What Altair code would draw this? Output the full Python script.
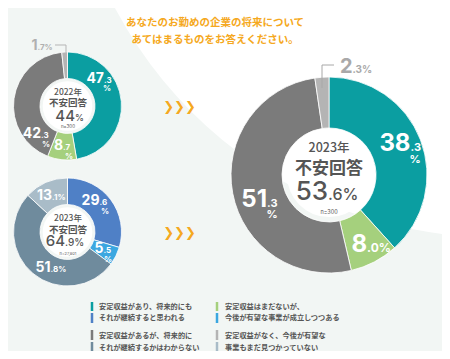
import math
import altair as alt
import pandas as pd

# ---------------- data ----------------
vals_2022 = [47.3, 8.7, 42.3, 1.7]          # 2022, n=300
vals_2023 = [38.3, 8.0, 51.3, 2.3]          # 2023, n=300
vals_other = [29.6, 5.5, 51.8, 13.1]        # 2023, n=27,801
n_2022 = "n=300"
n_2023 = "n=300"
n_other = "n=27,801"
year_2022 = "2022年"
year_2023 = "2023年"
center_title = "不安回答"
title_lines = ["あなたのお勤めの企業の将来について", "あてはまるものをお答えください。"]
legend_lines = [
    ["安定収益があり、将来的にも", "それが継続すると思われる"],
    ["安定収益はまだないが、", "今後が有望な事業が成立しつつある"],
    ["安定収益があるが、将来的に", "それが継続するかはわからない"],
    ["安定収益がなく、今後が有望な", "事業もまだ見つかっていない"],
]

# ---------------- styles ----------------
C_MAIN = ["#0b9ea1", "#a5d07d", "#7b7b7b", "#b4b4b4"]
C_OTHER = ["#4f80c6", "#3ba7e0", "#6f8b9d", "#a9bcc8"]
ORANGE = "#f5a820"
TXT = "#555555"
NUM = "Inter"
JP = "Noto Sans CJK JP"

OFF = 8
W, H = 434, 343

texts = []


def T(x, y, s, size, color, align="center", weight="normal", font=NUM):
    texts.append(dict(x=x - OFF, y=y - OFF, t=s, size=size, color=color,
                      align=align, weight=weight, font=font))


def split(v):
    a, b = f"{v:.1f}".split(".")
    return a, "." + b


def pct_label(v, xs, base, big, small, color, below=None):
    a, b = split(v)
    T(xs, base, a, big, color, "right", 700)
    if below:
        T(xs, base, b, small, color, "left", 700)
        T(below[0], below[1], "%", small, color, "center", 700)
    else:
        T(xs, base, b + "%", small, color, "left", 700)


# slice labels
L1 = [(104, 83, 14, 8, "white", (107, 91)),
      (63, 150, 14, 8, "white", (69, 158.5)),
      (41, 138, 14, 8, "white", (46, 146.5)),
      (37.5, 49.5, 14, 8, "#b0b0b0", None)]
for v, (xs, b, bg, sm, c, bl) in zip(vals_2022, L1):
    pct_label(v, xs, b, bg, sm, c, bl)

L2 = [(99.5, 205, 14, 8, "white", (105, 213.5)),
      (103.5, 253, 14, 8, "white", (108, 261.5)),
      (50.5, 272, 14, 8, "white", None),
      (52, 200, 14, 8, "white", None)]
for v, (xs, b, bg, sm, c, bl) in zip(vals_other, L2):
    pct_label(v, xs, b, bg, sm, c, bl)

L3 = [(410.5, 151, 24, 11, "white", (415, 163)),
      (367, 252, 24, 12, "white", None),
      (267, 207, 24, 11, "white", (272, 218)),
      (352.5, 72.5, 20, 10, "#a9a9a9", None)]
for v, (xs, b, bg, sm, c, bl) in zip(vals_2023, L3):
    pct_label(v, xs, b, bg, sm, c, bl)


# center texts
def anxiety(vals):
    return round(vals[2] + vals[3], 1)


def center(cx, yy, year, n, total, s_year, s_title, s_big, s_small, s_n, split_x):
    T(cx, yy[0], year, s_year, TXT, "center", 500, JP)
    T(cx, yy[1], center_title, s_title, TXT, "center", 700, JP)
    a, b = f"{total:.1f}".split(".")
    rest = "%" if b == "0" else "." + b + "%"
    T(split_x, yy[2], a, s_big, TXT, "right", 500)
    T(split_x, yy[2], rest, s_small, TXT, "left", 500)
    T(cx, yy[3], n, s_n, TXT, "center", 400)


center(68, (94.5, 106, 120.5, 127.5), year_2022, n_2022, anxiety(vals_2022), 8.5, 9.5, 15, 9, 4.5, 75)
center(68, (221, 232.5, 245.5, 254.5), year_2023, n_other, anxiety(vals_other), 8.5, 9.5, 15, 10, 4, 65)
center(329, (151.5, 174, 200, 213.5), year_2023, n_2023, anxiety(vals_2023), 12.5, 17, 26, 16, 5.5, 328)

# title & arrows
T(215, 25.5, title_lines[0], 10.5, ORANGE, "center", 700, JP)
T(215, 43, title_lines[1], 10.5, ORANGE, "center", 700, JP)
T(179.5, 111, "❯❯❯", 13, ORANGE, "center", 700, "DejaVu Sans")
T(179.5, 237, "❯❯❯", 13, ORANGE, "center", 700, "DejaVu Sans")

# legend texts
LEG_POS = [(99, 308.5, 319.5), (225, 308.5, 319.5), (99, 337.5, 349.5), (225, 337.5, 349.5)]
for lines, (x, y1, y2) in zip(legend_lines, LEG_POS):
    T(x, y1, lines[0], 7.2, TXT, "left", 700, JP)
    T(x, y2, lines[1], 7.2, TXT, "left", 700, JP)

tdf = pd.DataFrame(texts)

# ---------------- layers ----------------
def disc(cx, cy, r, color):
    return alt.Chart(pd.DataFrame({"a": [0]})).mark_circle(
        size=math.pi * r ** 2, color=color, opacity=1
    ).encode(x=alt.value(cx - OFF), y=alt.value(cy - OFF))


bg_circle = disc(494, -191, 483, "white")


def donut(vals, colors, cx, cy, r_in, r_out):
    df = pd.DataFrame({"v": vals, "c": colors, "i": list(range(len(vals)))})
    arcs = alt.Chart(df).mark_arc(
        innerRadius=r_in, outerRadius=r_out, stroke="white", strokeWidth=0.8
    ).encode(
        theta=alt.Theta("v:Q", stack=True),
        color=alt.Color("c:N", scale=None),
        order=alt.Order("i:Q"),
        x=alt.value(cx - OFF),
        y=alt.value(cy - OFF),
    )
    return [arcs, disc(cx, cy, r_in + 0.5, "white")]


d1 = donut(vals_2022, C_MAIN, 67.5, 106, 27.5, 54)
d2 = donut(vals_other, C_OTHER, 67.5, 232, 27.5, 54)
d3 = donut(vals_2023, C_MAIN, 329, 175, 47, 98)

lines_df = pd.DataFrame({
    "x": [55, 66, 322, 322], "y": [45, 45, 65, 65],
    "x2": [66, 66, 334, 322], "y2": [45, 56, 65, 88],
    "c": ["#b5b5b5", "#b5b5b5", "#a8a8a8", "#a8a8a8"],
})
lines_df[["x", "x2", "y", "y2"]] -= OFF
leaders = alt.Chart(lines_df).mark_rule(strokeWidth=1).encode(
    x=alt.X("x:Q", scale=None, axis=None), x2="x2:Q",
    y=alt.Y("y:Q", scale=None, axis=None), y2="y2:Q",
    color=alt.Color("c:N", scale=None),
)

leg_df = pd.DataFrame({
    "x": [92, 92, 217, 217, 92, 92, 217, 217],
    "y": [302, 313, 302, 313, 330, 342, 330, 342],
    "y2": [311, 323, 311, 323, 340, 352, 340, 352],
    "c": [C_MAIN[0], C_OTHER[0], C_MAIN[1], C_OTHER[1],
          C_MAIN[2], C_OTHER[2], C_MAIN[3], C_OTHER[3]],
})
leg_df[["x", "y", "y2"]] -= OFF
legend_bars = alt.Chart(leg_df).mark_rule(strokeWidth=2.5).encode(
    x=alt.X("x:Q", scale=None, axis=None),
    y=alt.Y("y:Q", scale=None, axis=None), y2="y2:Q",
    color=alt.Color("c:N", scale=None),
)

text_layers = []
for (font, weight, align), g in tdf.groupby(["font", "weight", "align"]):
    text_layers.append(
        alt.Chart(g.reset_index(drop=True)).mark_text(
            font=font, fontWeight=weight, align=align, baseline="alphabetic"
        ).encode(
            x=alt.X("x:Q", scale=None, axis=None),
            y=alt.Y("y:Q", scale=None, axis=None),
            text="t:N",
            size=alt.Size("size:Q", scale=None, legend=None),
            color=alt.Color("color:N", scale=None),
        )
    )

chart = alt.layer(bg_circle, *d1, *d2, *d3, leaders, legend_bars, *text_layers).resolve_scale(
    theta="independent"
).properties(
    width=W, height=H, autosize=alt.AutoSizeParams(type="none"), padding=0,
    background="#f2f6f4",
).configure_view(strokeWidth=0)

chart.save("out.html", embed_options={"renderer": "svg", "actions": False})
